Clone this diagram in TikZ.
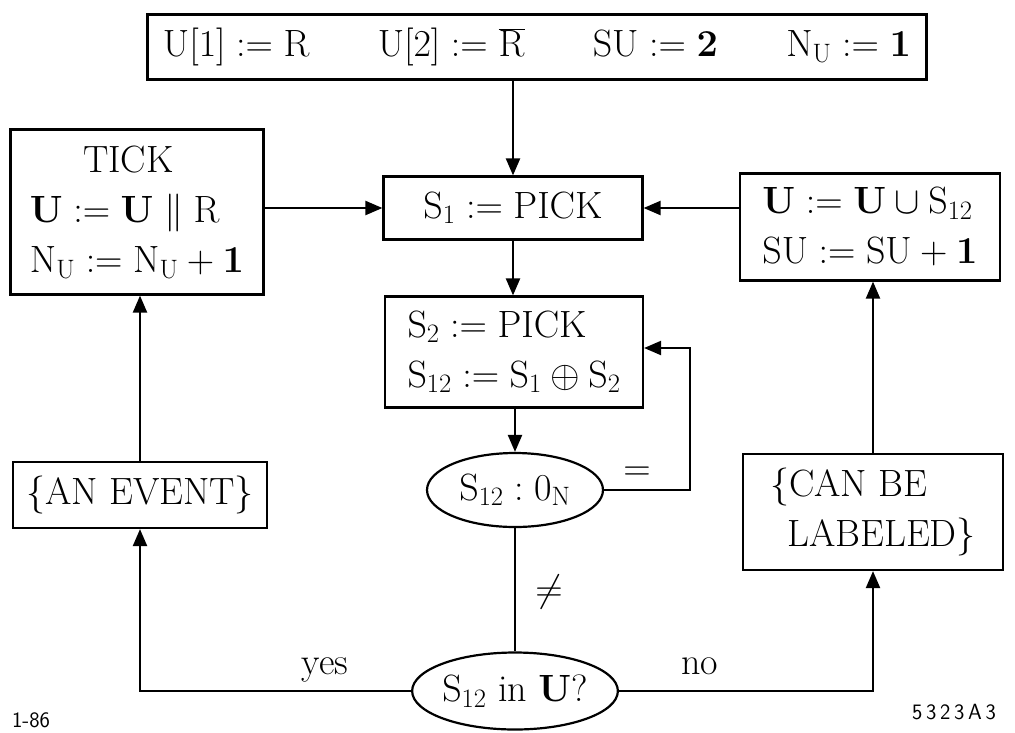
\RequirePackage{fix-cm}
\documentclass[tikz,border=0pt]{standalone}
\usepackage{tikz}
\usetikzlibrary{shapes.geometric,arrows.meta}

\begin{document}
\begin{tikzpicture}[x=1pt,y=-1pt,
    box/.style={draw, line width=2.2pt, inner sep=0pt, align=left,
      font=\fontsize{38}{50}\selectfont},
    test/.style={draw, ellipse, line width=2.2pt, inner sep=0pt,
      font=\fontsize{38}{50}\selectfont},
    word/.style={font=\fontsize{38}{44}\selectfont},
    flow/.style={line width=2.2pt, -{Triangle[length=17pt,width=14pt]}},
    line/.style={line width=2.2pt}]
  \useasboundingbox (0,0) rectangle (1015,732);

  % Boxes down the middle
  \node[box, minimum width=779pt, minimum height=65pt] (init) at (537,47)
    {$\mathrm{U[1]} := \mathrm{R}$\hspace{1.8em}$\mathrm{U[2]} := \overline{\mathrm{R}}$\hspace{1.8em}$\mathrm{SU} := \mathbf{2}$\hspace{1.8em}$\mathrm{N_U} := \mathbf{1}$};
  \node[box, minimum width=259pt, minimum height=63pt] (pick1) at (513,208)
    {$\mathrm{S_1} := \mathrm{PICK}$};
  \node[box, minimum width=258pt, minimum height=111pt] (pick2) at (514,352)
    {$\mathrm{S_2} := \mathrm{PICK}$\\$\mathrm{S_{12}} := \mathrm{S_1} \oplus \mathrm{S_2}$};
  \node[test, minimum width=176pt, minimum height=74pt] (zero) at (515,490)
    {$\mathrm{S_{12}} : 0_{\mathrm{N}}$};
  \node[test, minimum width=184pt, minimum height=77pt] (inU) at (515,691)
    {$\mathrm{S_{12}}$ in $\mathbf{U}$?};

  % Boxes on the left
  \node[box, minimum width=253pt, minimum height=165pt] (tick) at (137,212)
    {\hspace{1.4em}TICK\\$\mathbf{U} := \mathbf{U} \parallel \mathrm{R}$\\$\mathrm{N_U} := \mathrm{N_U} + \mathbf{1}$};
  \node[box, minimum width=254pt, minimum height=66pt] (event) at (140,495)
    {\{AN EVENT\}};

  % Boxes on the right
  \node[box, minimum width=260pt, minimum height=107pt] (addU) at (870,227)
    {$\mathbf{U} := \mathbf{U} \cup \mathrm{S_{12}}$\\$\mathrm{SU} := \mathrm{SU} + \mathbf{1}$};
  \node[box, minimum width=260pt, minimum height=116pt] (label) at (873,512)
    {\{CAN BE\\\hspace{0.45em}LABELED\}};

  % Connectors
  \coordinate (back) at (690,348);
  \draw[flow] (init.south -| pick1.north) -- (pick1.north);
  \draw[flow] (tick.east |- pick1.west) -- (pick1.west);
  \draw[flow] (addU.west |- pick1.east) -- (pick1.east);
  \draw[flow] (pick1.south) -- (pick1.south |- pick2.north);
  \draw[flow] (pick2.south -| zero.north) -- (zero.north);
  \draw[flow] (zero.east) -| (back) -- (back -| pick2.east);
  \draw[line] (zero.south) -- (inU.north);
  \draw[flow] (inU.west) -| (event.south);
  \draw[flow] (inU.east) -| (label.south);
  \draw[flow] (event.north) -- (event.north |- tick.south);
  \draw[flow] (label.north) -- (label.north |- addU.south);

  % Labels
  \node[word] (eq) at (637,474) {$=$};
  \node[word] (ne) at (549,592) {$\neq$};
  \node[word] (yes) at (325,670) {yes};
  \node[word] (no) at (700,666) {no};
  \node[font=\fontsize{22}{26}\sffamily] (date) at (31,720) {1-86};
  \node[font=\fontsize{22}{26}\sffamily] (fig) at (954,712) {5\,3\,2\,3\,A\,3};
\end{tikzpicture}
\end{document}
